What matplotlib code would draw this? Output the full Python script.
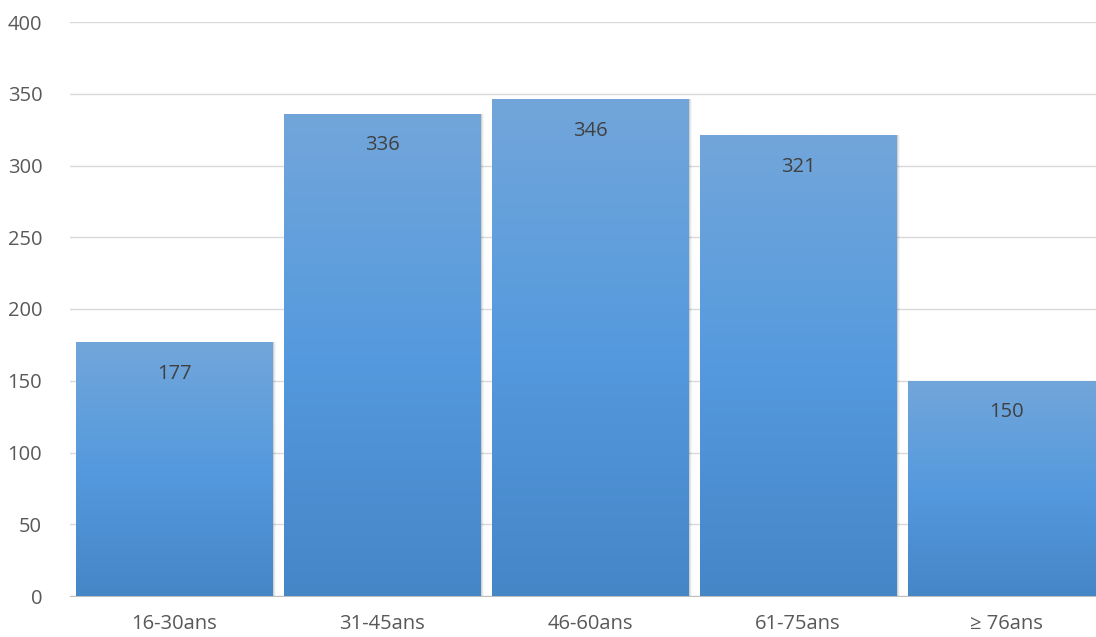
import numpy as np
import matplotlib.pyplot as plt
from matplotlib.colors import LinearSegmentedColormap

categories = ['16-30ans', '31-45ans', '46-60ans', '61-75ans', '≥ 76ans']
counts = [177, 336, 346, 321, 150]

plt.rcParams['font.family'] = ['Open Sans', 'DejaVu Sans']

fig = plt.figure(figsize=(10.96, 6.37), dpi=100)
# axes run a bit past the right edge, the last bar is cut off like in the source
ax = fig.add_axes([70/1096, 41/637, 1040/1096, 574/637])

x = np.arange(len(categories))
width = 197/208
cmap = LinearSegmentedColormap.from_list('bar', ['#4586c7', '#559ade', '#72a6da'])
grad = np.linspace(0, 1, 256).reshape(-1, 1)

for xi, v in zip(x, counts):
    # soft shadow round the bar
    for k, a in enumerate([0.10, 0.06, 0.03]):
        ax.bar(xi + (k+1)*0.006, v, width=width, bottom=0, color='black',
               alpha=a, zorder=2, linewidth=0)
    b = ax.bar(xi, v, width=width, color='#5b9bd5', zorder=3, linewidth=0)[0]
    im = ax.imshow(grad, cmap=cmap, aspect='auto', origin='lower',
                   extent=[xi - width/2, xi + width/2, 0, v], zorder=4)
    im.set_clip_path(b)
    ax.text(xi, v - 15, str(v), ha='center', va='top', fontsize=14.5,
            color='#404040', zorder=5)

ax.set_xlim(-0.5, len(categories) - 0.5)
ax.set_ylim(0, 400)
ax.set_yticks(range(0, 401, 50))
ax.set_xticks(x)
ax.set_xticklabels(categories)
ax.yaxis.grid(True, color='#d9d9d9', linewidth=1)
ax.set_axisbelow(True)
for s in ['top', 'right', 'left']:
    ax.spines[s].set_visible(False)
ax.spines['bottom'].set_color('#bfbfbf')
ax.tick_params(axis='both', length=0, labelsize=14.5, colors='#595959')
ax.tick_params(axis='y', pad=20)
ax.tick_params(axis='x', pad=13)

fig.savefig('out.png', dpi=100)
